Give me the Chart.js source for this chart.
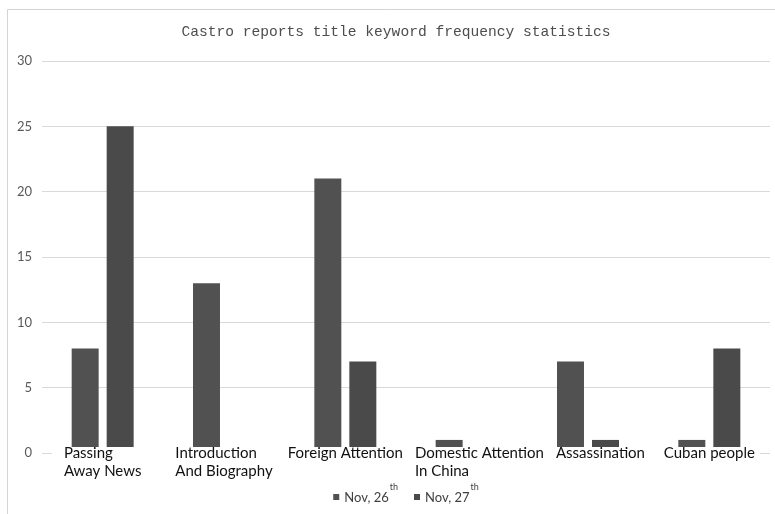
<!DOCTYPE html>
<html>
<head>
<meta charset="utf-8">
<script src="https://cdn.jsdelivr.net/npm/chart.js@4"></script>
<style>
  html, body { margin: 0; padding: 0; background: #fff; }
  #wrap { width: 775px; height: 514px; position: relative; }
</style>
</head>
<body>
<div id="wrap"><canvas id="c" width="775" height="514"></canvas></div>
<script>
// Chart text and data
const chartTitle = 'Castro reports title keyword frequency statistics';
const categories = [
  ['Passing', 'Away News'],
  ['Introduction', 'And Biography'],
  ['Foreign Attention'],
  ['Domestic Attention', 'In China'],
  ['Assassination'],
  ['Cuban people']
];
const seriesNames = ['Nov, 26', 'Nov, 27'];
const seriesSup = ['th', 'th'];
const nov26 = [8, 13, 21, 1, 7, 1];
const nov27 = [25, 0, 7, 0, 1, 8];
const yTicks = [0, 5, 10, 15, 20, 25, 30];

const barColors = ['#515151', '#4a4a4a'];
const labelFont = '15px Lato, "Open Sans", sans-serif';

// Frame, title, category labels and legend drawn on the canvas
const decor = {
  id: 'decor',
  beforeDraw(chart) {
    const ctx = chart.ctx;
    ctx.save();
    ctx.fillStyle = '#fff';
    ctx.fillRect(0, 0, chart.width, chart.height);
    ctx.strokeStyle = '#d4d4d4';
    ctx.lineWidth = 1;
    ctx.beginPath();
    ctx.moveTo(7.5, chart.height);
    ctx.lineTo(7.5, 9.5);
    ctx.lineTo(chart.width, 9.5);
    ctx.stroke();
    ctx.restore();
  },
  afterDatasetsDraw(chart) {
    const ctx = chart.ctx;
    const area = chart.chartArea;
    const xs = chart.scales.x;
    const zeroY = chart.scales.y.getPixelForValue(0);
    ctx.save();
    // label band sits over the axis line and bar feet
    ctx.fillStyle = '#fff';
    ctx.fillRect(area.left + 10, zeroY - 6, area.right - area.left - 20, 40);
    ctx.font = labelFont;
    ctx.fillStyle = '#111';
    ctx.textBaseline = 'alphabetic';
    ctx.textAlign = 'left';
    let prevRight = -Infinity;
    chart.data.labels.forEach((lines, i) => {
      const cx = xs.getPixelForValue(i);
      const w = Math.max(...lines.map(l => ctx.measureText(l).width));
      // keep neighbouring label blocks apart
      const x0 = Math.max(cx - w / 2, prevRight + 12);
      prevRight = x0 + w;
      lines.forEach((l, j) => ctx.fillText(l, x0, zeroY + 5 + j * 18));
    });
    ctx.restore();
  },
  afterDraw(chart) {
    const ctx = chart.ctx;
    const area = chart.chartArea;
    ctx.save();
    // title
    ctx.font = '14.6px "Liberation Mono", "DejaVu Sans Mono", monospace';
    ctx.fillStyle = '#4d4d4d';
    ctx.textAlign = 'center';
    ctx.textBaseline = 'middle';
    ctx.fillText(chartTitle, 396, 32);

    // legend
    const mainFont = '13px Lato, "Open Sans", sans-serif';
    const supFont = '9px Lato, "Open Sans", sans-serif';
    const items = chart.data.datasets.map((ds, i) => {
      ctx.font = mainFont;
      const tw = ctx.measureText(ds.label).width;
      ctx.font = supFont;
      const sw = ctx.measureText(seriesSup[i]).width;
      return { ds, tw, sw, sup: seriesSup[i] };
    });
    const marker = 6, gapM = 5, gapItem = 16;
    let total = 0;
    items.forEach((it, i) => {
      total += marker + gapM + it.tw + 1 + it.sw + (i < items.length - 1 ? gapItem : 0);
    });
    let x = (area.left + area.right) / 2 - total / 2;
    const y = 498;
    items.forEach(it => {
      ctx.fillStyle = it.ds.backgroundColor;
      ctx.fillRect(x, y - marker / 2 - 1, marker, marker);
      x += marker + gapM;
      ctx.fillStyle = '#404040';
      ctx.textAlign = 'left';
      ctx.textBaseline = 'middle';
      ctx.font = mainFont;
      ctx.fillText(it.ds.label, x, y);
      x += it.tw + 1;
      ctx.font = supFont;
      ctx.fillText(it.sup, x, y - 11);
      x += it.sw + gapItem;
    });
    ctx.restore();
  }
};

new Chart(document.getElementById('c'), {
  type: 'bar',
  data: {
    labels: categories,
    datasets: [
      { label: seriesNames[0], data: nov26, backgroundColor: barColors[0] },
      { label: seriesNames[1], data: nov27, backgroundColor: barColors[1] }
    ]
  },
  options: {
    responsive: false,
    animation: false,
    devicePixelRatio: 1,
    layout: { padding: { top: 61, bottom: 61, left: 0, right: 5 } },
    datasets: { bar: { categoryPercentage: 0.577, barPercentage: 0.771, borderWidth: 0 } },
    plugins: { legend: { display: false }, title: { display: false }, tooltip: { enabled: false } },
    scales: {
      x: { display: false, offset: true },
      y: {
        min: yTicks[0],
        max: yTicks[yTicks.length - 1],
        afterFit(s) { s.width = 42; },
        afterBuildTicks(s) { s.ticks = yTicks.map(v => ({ value: v })); },
        ticks: { color: '#595959', font: { family: 'Lato, "Open Sans", sans-serif', size: 13 }, padding: 10 },
        grid: { color: '#d9d9d9', drawTicks: false, lineWidth: 1 },
        border: { display: false }
      }
    }
  },
  plugins: [decor]
});
</script>
</body>
</html>
